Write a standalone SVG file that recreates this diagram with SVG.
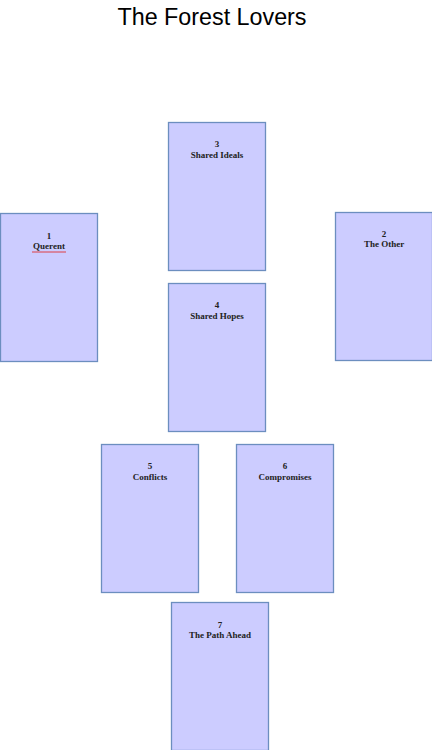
<svg xmlns="http://www.w3.org/2000/svg" width="432" height="750" viewBox="0 0 432 750">
<style>
.card{fill:#ccccff;stroke:#6c8ebf;stroke-width:1.3}
.t{font-family:"Liberation Serif",serif;font-weight:bold;font-size:9px;fill:#222;text-anchor:middle}
.title{font-family:"Liberation Sans",Arial,sans-serif;font-size:23.3px;fill:#000;text-anchor:middle}
</style>
<rect width="432" height="750" fill="#fff"/>
<text class="title" x="212" y="25">The Forest Lovers</text>
<g id="card1"><rect class="card" x="0.5" y="213.5" width="97" height="148"/><text class="t" x="49" y="239">1</text><text class="t" x="49" y="249">Querent</text><path d="M32 252 L66 252" stroke="#e03030" stroke-width="0.9" fill="none"/></g>
<g id="card2"><rect class="card" x="335.5" y="212.5" width="97" height="148"/><text class="t" x="384" y="237">2</text><text class="t" x="384" y="247">The Other</text></g>
<g id="card3"><rect class="card" x="168.5" y="122.5" width="97" height="148"/><text class="t" x="217" y="147">3</text><text class="t" x="217" y="158">Shared Ideals</text></g>
<g id="card4"><rect class="card" x="168.5" y="283.5" width="97" height="148"/><text class="t" x="217" y="308">4</text><text class="t" x="217" y="319">Shared Hopes</text></g>
<g id="card5"><rect class="card" x="101.5" y="444.5" width="97" height="148"/><text class="t" x="150" y="469">5</text><text class="t" x="150" y="480">Conflicts</text></g>
<g id="card6"><rect class="card" x="236.5" y="444.5" width="97" height="148"/><text class="t" x="285" y="469">6</text><text class="t" x="285" y="480">Compromises</text></g>
<g id="card7"><rect class="card" x="171.5" y="602.5" width="97" height="148"/><text class="t" x="220" y="628">7</text><text class="t" x="220" y="638">The Path Ahead</text></g>
<g id="connectors"></g>
</svg>
